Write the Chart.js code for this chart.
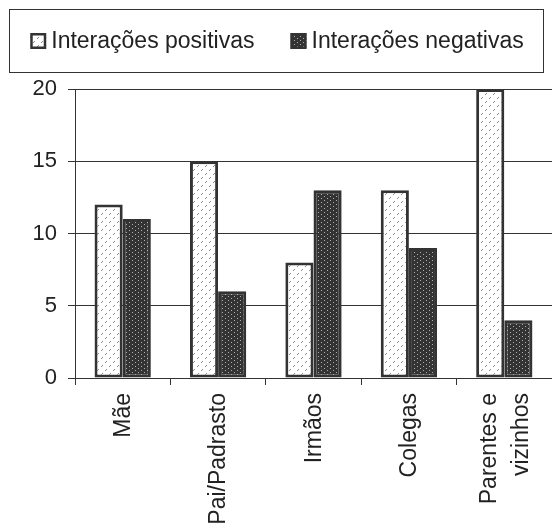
<!DOCTYPE html>
<html>
<head>
<meta charset="utf-8">
<script src="https://cdn.jsdelivr.net/npm/chart.js@4.4.1/dist/chart.umd.min.js"></script>
<style>
  html, body { margin: 0; padding: 0; background: #fff; }
  #wrap { width: 552px; height: 525px; position: relative; }
</style>
</head>
<body>
<div id="wrap"><canvas id="myChart"></canvas></div>
<script>
const categories = ['Mãe', 'Pai/Padrasto', 'Irmãos', 'Colegas', ['Parentes e', 'vizinhos']]
const positivas = [12, 15, 8, 13, 20]
const negativas = [11, 6, 13, 9, 4]
const seriesNames = ['Interações positivas', 'Interações negativas']
const yTicks = [0, 5, 10, 15, 20]

const FONT = "'Liberation Sans', Arial, sans-serif"
const INK = '#333'

// small tiled patterns like the old office fills
function makePattern(bg, dot, w, h, dots) {
    const c = document.createElement('canvas')
    c.width = w
    c.height = h
    const g = c.getContext('2d')
    g.fillStyle = bg
    g.fillRect(0, 0, w, h)
    g.fillStyle = dot
    dots.forEach(d => g.fillRect(d[0], d[1], 1, 1))
    return g.createPattern(c, 'repeat')
}
const ctx = document.getElementById('myChart').getContext('2d')
const posFill = makePattern('#fff', '#8a8a8a', 8, 8, [[1, 2], [2, 1], [5, 6], [6, 5]])
const negFill = makePattern('#333', '#b0b0b0', 6, 4, [[0, 0], [3, 2]])

// legend drawn in a framed box, items centered
const boxLegend = {
    id: 'boxLegend',
    afterDraw(chart) {
        const c = chart.ctx
        c.save()
        c.strokeStyle = INK
        c.lineWidth = 1
        c.strokeRect(9.5, 9.5, 534, 63)
        c.font = '23px ' + FONT
        c.textBaseline = 'middle'
        c.fillStyle = '#222'
        const items = chart.data.datasets.map(ds => ({ text: ds.label, fill: ds.backgroundColor }))
        const widths = items.map(it => c.measureText(it.text).width)
        const total = widths.reduce((a, b) => a + b, 0) + items.length * 21 + (items.length - 1) * 36
        let x = 277 - total / 2
        const midY = 41
        items.forEach((it, i) => {
            c.fillStyle = it.fill
            c.fillRect(x, midY - 8, 16, 16)
            c.strokeStyle = INK
            c.lineWidth = 2.5
            c.strokeRect(x + 1.25, midY - 6.75, 13.5, 13.5)
            c.fillStyle = '#222'
            c.fillText(it.text, x + 21, midY + 1)
            x += 21 + widths[i] + 36
        })
        c.restore()
    }
}

// vertical category labels, multi-line ones centred on the tick
const vertLabels = {
    id: 'vertLabels',
    afterDraw(chart) {
        const sx = chart.scales.x
        const c = chart.ctx
        const lh = 32
        c.save()
        c.font = '23px ' + FONT
        c.fillStyle = '#222'
        c.textAlign = 'right'
        c.textBaseline = 'middle'
        chart.data.labels.forEach((lab, i) => {
            const lines = Array.isArray(lab) ? lab : [lab]
            const x = sx.getPixelForTick(i)
            c.save()
            c.translate(x, sx.top + 15)
            c.rotate(-Math.PI / 2)
            lines.forEach((ln, k) => {
                c.fillText(ln, 0, (k - (lines.length - 1) / 2) * lh + 1)
            })
            c.restore()
        })
        c.restore()
    }
}

new Chart(ctx, {
    type: 'bar',
    data: {
        labels: categories,
        datasets: [
            {
                label: seriesNames[0],
                data: positivas,
                backgroundColor: posFill,
                borderColor: INK,
                borderWidth: 3,
                borderSkipped: false,
            },
            {
                label: seriesNames[1],
                data: negativas,
                backgroundColor: negFill,
                borderColor: INK,
                borderWidth: 3,
                borderSkipped: false,
            }
        ]
    },
    options: {
        responsive: true,
        maintainAspectRatio: false,
        animation: false,
        devicePixelRatio: 1,
        layout: { padding: { top: 89, right: 0, left: 0, bottom: 0 } },
        datasets: { bar: { categoryPercentage: 0.59, barPercentage: 1 } },
        plugins: {
            legend: { display: false },
            tooltip: { enabled: false },
        },
        scales: {
            x: {
                grid: { drawOnChartArea: false, drawTicks: true, tickLength: 7, color: INK, offset: true },
                border: { color: INK, width: 1 },
                ticks: { display: false, autoSkip: false },
                afterFit(scale) {
                    scale.height = 147
                    scale.paddingLeft = 0
                    scale.paddingRight = 0
                },
            },
            y: {
                min: 0,
                max: 20,
                afterBuildTicks(scale) { scale.ticks = yTicks.map(v => ({ value: v })) },
                grid: { color: INK, tickLength: 7, lineWidth: 1 },
                border: { color: INK, width: 1 },
                ticks: {
                    padding: 11,
                    color: '#222',
                    font: { family: FONT, size: 22 },
                },
                afterFit(scale) {
                    scale.width = 75
                    scale.paddingTop = 0
                    scale.paddingBottom = 0
                },
            }
        }
    },
    plugins: [boxLegend, vertLabels]
})
</script>
</body>
</html>
